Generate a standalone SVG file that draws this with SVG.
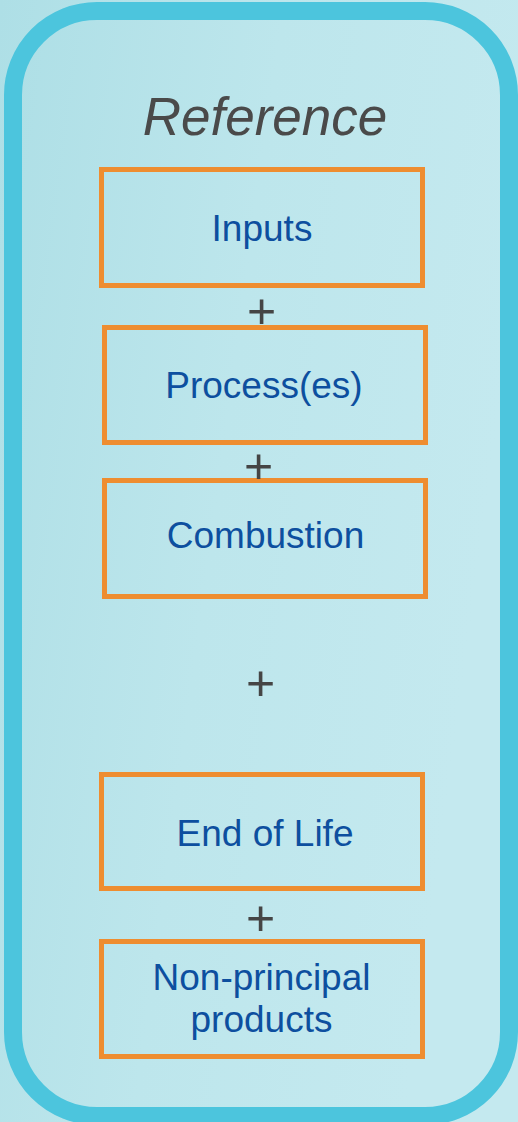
<svg xmlns="http://www.w3.org/2000/svg" width="518" height="1122" viewBox="0 0 518 1122">
  <defs>
    <linearGradient id="bg" x1="0" y1="0" x2="1" y2="0.3">
      <stop offset="0" stop-color="#aedfe6"/>
      <stop offset="0.5" stop-color="#bde6ec"/>
      <stop offset="1" stop-color="#c4e9ef"/>
    </linearGradient>
    <style>
      .box { fill: none; stroke: #ee8d30; stroke-width: 5; }
      .label { font-family: "Liberation Sans", Arial, sans-serif; font-size: 37px; fill: #0d4f9f; text-anchor: middle; }
      .plus { font-family: "Liberation Sans", Arial, sans-serif; font-size: 50px; fill: #454545; text-anchor: middle; }
      .title { font-family: "Liberation Sans", Arial, sans-serif; font-size: 53px; font-style: italic; fill: #4a4a4a; text-anchor: middle; }
    </style>
  </defs>
  <rect x="0" y="0" width="518" height="1122" fill="url(#bg)"/>
  <g id="frame">
    <rect x="13" y="11" width="496" height="1105" rx="84" ry="84" fill="url(#bg)" stroke="#4cc5dd" stroke-width="18"/>
    <text class="title" x="265" y="135">Reference</text>
  </g>
  <g id="node-inputs">
    <rect class="box" x="101.5" y="169.5" width="321" height="116"/>
    <text class="label" x="262" y="241">Inputs</text>
  </g>
  <g id="node-process">
    <rect class="box" x="104.5" y="327.5" width="321" height="115"/>
    <text class="label" x="264" y="398">Process(es)</text>
  </g>
  <g id="node-combustion">
    <rect class="box" x="104.5" y="480.5" width="321" height="116"/>
    <text class="label" x="265.5" y="548">Combustion</text>
  </g>
  <g id="node-end-of-life">
    <rect class="box" x="101.5" y="774.5" width="321" height="114"/>
    <text class="label" x="265" y="846">End of Life</text>
  </g>
  <g id="node-non-principal">
    <rect class="box" x="101.5" y="941.5" width="321" height="115"/>
    <text class="label" x="261.5" y="990">Non-principal</text>
    <text class="label" x="261.5" y="1032">products</text>
  </g>
  <g id="connectors">
    <text class="plus" x="261.5" y="328">+</text>
    <text class="plus" x="258.5" y="483">+</text>
    <text class="plus" x="260.5" y="700">+</text>
    <text class="plus" x="260.5" y="935">+</text>
  </g>
</svg>
